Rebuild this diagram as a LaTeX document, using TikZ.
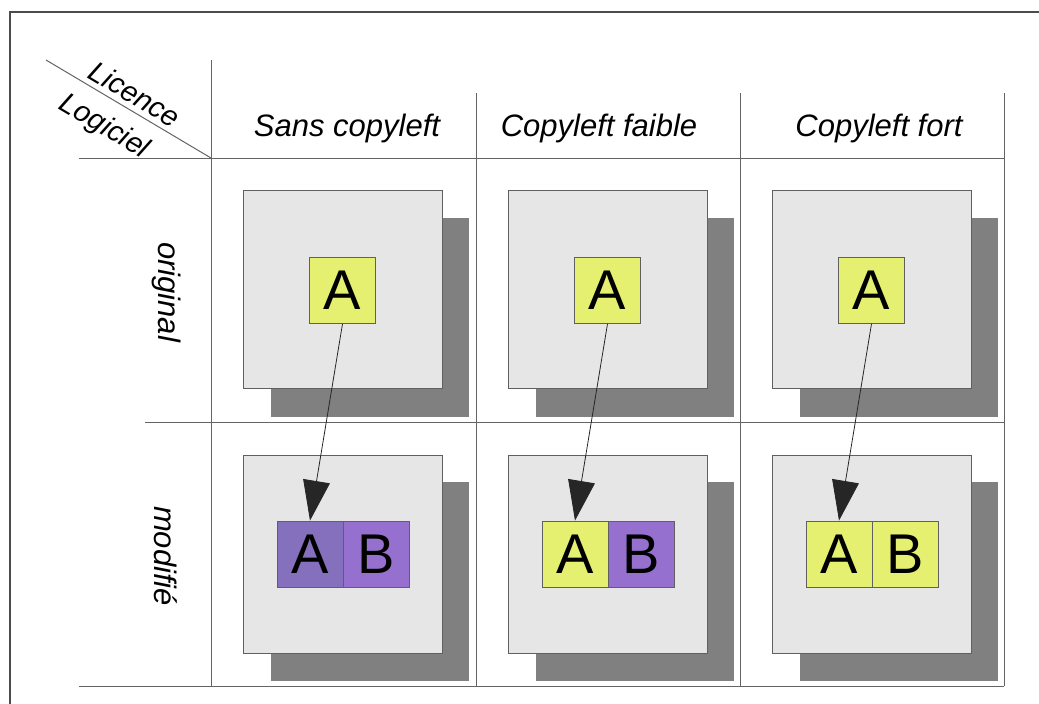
\documentclass[tikz,border=0pt]{standalone}
\usepackage{fontspec}
\setmainfont{Liberation Sans}
\usetikzlibrary{arrows.meta}
\definecolor{boxyellow}{RGB}{230,240,112}
\definecolor{purpA}{RGB}{132,112,188}
\definecolor{purpB}{RGB}{150,112,206}
\definecolor{panel}{RGB}{230,230,230}
\definecolor{shade}{RGB}{128,128,128}
\definecolor{gridc}{RGB}{100,100,100}
\definecolor{edgec}{RGB}{96,96,96}
\begin{document}
\begin{tikzpicture}[x=1pt,y=-1pt,
  grid/.style={draw=gridc,line width=1pt},
  panelbox/.style={draw=edgec,fill=panel,line width=0.8pt,minimum width=199pt,minimum height=198pt,inner sep=0pt},
  shadowbox/.style={fill=shade,minimum width=198pt,minimum height=199pt,inner sep=0pt},
  letterbox/.style={draw=edgec,line width=0.8pt,minimum width=66pt,minimum height=66pt,inner sep=0pt,font=\fontsize{56}{60}\selectfont},
  head/.style={font=\itshape\fontsize{31}{36}\selectfont,inner sep=0pt},
  corner/.style={font=\itshape\fontsize{29}{32}\selectfont,inner sep=0pt,rotate=-30.7},
  link/.style={draw=black!85,line width=0.8pt,-{Triangle[length=40pt,width=27pt]}}]
\useasboundingbox (0,0) rectangle (1039,704);
\begin{scope}
  \clip (0,0) rectangle (1039,704);
  \draw[line width=2pt,draw=black!70] (10,12) rectangle (1060,730);
\end{scope}
% grid
\draw[grid] (211,60) -- (211,686);
\draw[grid] (476,93) -- (476,686);
\draw[grid] (740,93) -- (740,686);
\draw[grid] (1004,93) -- (1004,686);
\draw[grid] (79,158) -- (1004,158);
\draw[grid] (145,422) -- (1004,422);
\draw[grid] (79,686) -- (1004,686);
\draw[grid] (46,60) -- (211,158);
% corner labels
\node[corner] (licence) at (135,94) {Licence};
\node[corner] (logiciel) at (104,127) {Logiciel};
% headers
\node[head,anchor=base] (h1) at (347,136) {Sans copyleft};
\node[head,anchor=base] (h2) at (599,136) {Copyleft faible};
\node[head,anchor=base] (h3) at (879,136) {Copyleft fort};
% row labels
\node[head,rotate=-90] (r1) at (167,292) {original};
\node[head,rotate=-90] (r2) at (166,556) {modifié};
% cells
\foreach \c/\dx/\ca/\cb in {1/0/purpA/purpB,2/265/boxyellow/purpB,3/529/boxyellow/boxyellow}{
  \node[shadowbox] (s1\c) at (370+\dx,317.5) {};
  \node[panelbox] (p1\c) at (342.5+\dx,289.5) {};
  \node[shadowbox] (s2\c) at (370+\dx,581) {};
  \node[panelbox] (p2\c) at (342.5+\dx,554) {};
  \node[letterbox,fill=boxyellow] (top\c) at (342.5+\dx,290.5) {A};
  \node[letterbox,fill=\ca] (a\c) at (310+\dx,554) {A};
  \node[letterbox,fill=\cb] (b\c) at (376+\dx,554) {B};
  \draw[link] (top\c.south) -- (a\c.north);
}
\end{tikzpicture}
\end{document}
